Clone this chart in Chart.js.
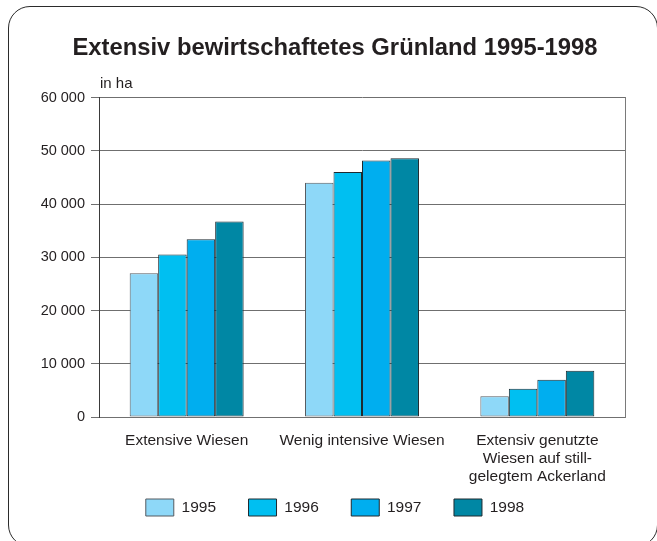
<!DOCTYPE html>
<html>
<head>
<meta charset="utf-8">
<script src="https://cdn.jsdelivr.net/npm/chart.js@4"></script>
<style>
  html, body { margin: 0; padding: 0; background: #fff; overflow: hidden; }
  #wrap { position: relative; width: 657px; height: 541px; overflow: hidden; }
  #frame { position: absolute; left: 8px; top: 6px; width: 650px; height: 541px;
           border: 1.5px solid #2b2b2b; border-radius: 22px; box-sizing: border-box; }
  canvas { position: absolute; left: 0; top: 0; }
</style>
</head>
<body>
<div id="wrap">
  <div id="frame"></div>
  <canvas id="c" width="657" height="541"></canvas>
</div>
<script>
const titleText = 'Extensiv bewirtschaftetes Grünland 1995-1998';
const unitLabel = 'in ha';
const categories = [
  ['Extensive Wiesen'],
  ['Wenig intensive Wiesen'],
  ['Extensiv genutzte', 'Wiesen auf still-', 'gelegtem Ackerland']
];
const years = ['1995', '1996', '1997', '1998'];
const values1995 = [27000, 44000, 3900];
const values1996 = [30500, 46000, 5300];
const values1997 = [33400, 48200, 7000];
const values1998 = [36700, 48600, 8700];
const yTickLabels = ['0', '10 000', '20 000', '30 000', '40 000', '50 000', '60 000'];

const fills = ['#8ed8f8', '#00bff1', '#00aeef', '#0087a4'];
const borders = ['#555b60', '#1e2a30', '#1e2a30', '#1e2a30'];
const FONT = "'Liberation Sans', Arial, Helvetica, sans-serif";
const TXT = '#231f20';

const seriesValues = [values1995, values1996, values1997, values1998];

const unitPlugin = {
  id: 'unitLabel',
  afterDraw(chart) {
    const ctx = chart.ctx;
    const a = chart.chartArea;
    ctx.save();
    ctx.font = '15px ' + FONT;
    ctx.fillStyle = TXT;
    ctx.textAlign = 'left';
    ctx.textBaseline = 'alphabetic';
    ctx.fillText(unitLabel, a.left + 1, a.top - 10);
    ctx.restore();
  }
};

// the legend's top padding overlaps the space used by the multi-line axis labels
const legendLift = {
  id: 'legendLift',
  afterLayout(chart) {
    const l = chart.legend;
    if (l) { l.top -= 19.5; l.bottom -= 19.5; }
  }
};

new Chart(document.getElementById('c'), {
  type: 'bar',
  data: {
    labels: categories,
    datasets: years.map((y, i) => ({
      label: y,
      data: seriesValues[i],
      backgroundColor: fills[i],
      borderColor: borders[i],
      borderWidth: 1,
      borderSkipped: false,
      categoryPercentage: 0.65,
      barPercentage: 1.0,
      yAxisID: 'y'
    }))
  },
  options: {
    responsive: false,
    animation: false,
    devicePixelRatio: 1,
    layout: { padding: { left: 13, right: 0, top: 0, bottom: -4.5 } },
    plugins: {
      title: {
        display: true,
        text: titleText,
        color: TXT,
        font: { family: FONT, size: 23.8, weight: 'bold', lineHeight: 1.2 },
        padding: { top: 34, bottom: 35 }
      },
      legend: {
        display: true,
        position: 'bottom',
        align: 'center',
        labels: {
          boxWidth: 28,
          boxHeight: 17,
          padding: 32.5,
          color: TXT,
          font: { family: FONT, size: 15.5 }
        }
      },
      tooltip: { enabled: false }
    },
    scales: {
      x: {
        grid: { display: false, drawTicks: false },
        border: { display: true, color: '#707070', width: 1 },
        ticks: {
          color: TXT,
          font: { family: FONT, size: 15.5, lineHeight: 1.16 },
          padding: 15,
          maxRotation: 0,
          autoSkip: false
        },
        afterFit(s) { s.height = 69; }
      },
      y: {
        min: 0,
        max: 60000,
        ticks: {
          stepSize: 10000,
          color: TXT,
          font: { family: FONT, size: 14.5 },
          padding: 6,
          callback: (v, i) => yTickLabels[i]
        },
        grid: { color: '#6f6f6f', lineWidth: 1, tickLength: 8, drawTicks: true },
        border: { display: true, color: '#3a3a3a', width: 1 },
        afterFit(s) { s.width = 86; }
      },
      y2: {
        position: 'right',
        min: 0,
        max: 60000,
        grid: { display: false, drawTicks: false },
        border: { display: true, color: '#7a7a7a', width: 1 },
        ticks: { display: false },
        afterFit(s) { s.width = 32; }
      }
    }
  },
  plugins: [unitPlugin, legendLift]
});
</script>
</body>
</html>
